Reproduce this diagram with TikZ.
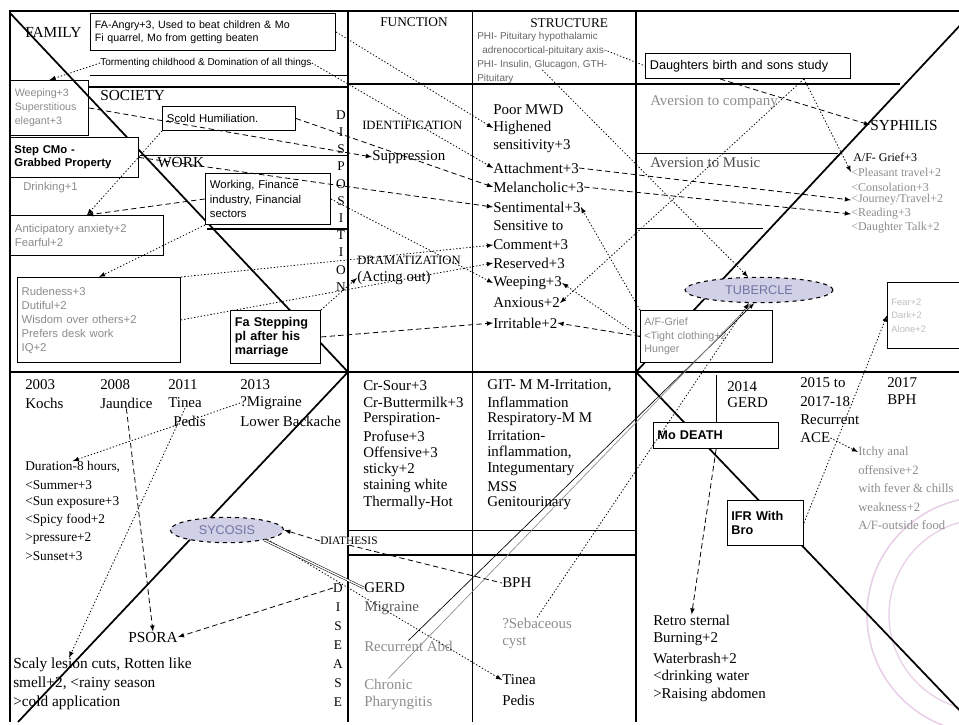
\documentclass[tikz,border=0pt]{standalone}
\usepackage{fontspec}
\setmainfont{Liberation Serif}
\setsansfont{Liberation Sans}
\usetikzlibrary{arrows,positioning,shapes.geometric}

\tikzset{
  heavy/.style={line width=1.3pt},
  hdr/.style={anchor=west, inner sep=0pt, font=\fontsize{11.5}{13}\selectfont},
  body/.style={anchor=west, inner sep=0pt, font=\fontsize{11.2}{12.5}\selectfont},
  capstext/.style={anchor=west, inner sep=0pt, font=\fontsize{9.5}{11}\selectfont},
  note/.style={anchor=west, inner sep=0pt, font=\fontsize{9}{10.5}\selectfont},
  tag/.style={anchor=west, inner sep=0pt, font=\sffamily\fontsize{7.5}{9}\selectfont},
  ghost/.style={text=black!45},
  box/.style={draw, fill=white, line width=0.7pt, anchor=north west, inner sep=3pt,
    align=left, font=\sffamily\fontsize{8.5}{10.5}\selectfont},
  boldbox/.style={box, font=\sffamily\bfseries\fontsize{9.5}{10.5}\selectfont},
  oval/.style={ellipse, draw, dashed, line width=0.8pt, inner sep=0pt,
    fill={rgb,255:red,208;green,208;blue,230}, text={rgb,255:red,115;green,115;blue,165},
    font=\sffamily\fontsize{9.5}{11}\selectfont},
  letter/.style={inner sep=0pt, font=\fontsize{10}{12}\selectfont},
  dashline/.style={-latex, dash pattern=on 4pt off 2.5pt, line width=0.6pt},
  dotline/.style={-latex, dash pattern=on 1pt off 1.5pt, line width=0.6pt},
}

\begin{document}
\begin{tikzpicture}[x=0.75pt, y=-0.75pt]
        \useasboundingbox (0,0) rectangle (959,724);

        % Faint seal in the corner
        \draw[violet!18, line width=1.2pt] (985,615) circle (118);
        \draw[violet!18, line width=1pt] (985,615) circle (96);

        % Frame and grid
        \draw[heavy] (10,722) -- (10,11) -- (959,11);
        \draw[heavy] (348,11) -- (348,722);
        \draw (472,11) -- (472,722);
        \draw[heavy] (636,11) -- (636,722);
        \draw[heavy] (10,372) -- (959,372);
        \draw[heavy] (348,84) -- (900,84);
        \draw (90,75) -- (348,75); \draw[heavy] (88,87) -- (348,87);
        \draw (140,155) -- (348,155); \draw[heavy] (207,229) -- (348,229);
        \draw (636,153) -- (838,153); \draw (636,228) -- (763,228);
        \draw (348,530) -- (636,530); \draw[heavy] (348,555) -- (636,555);

        % The four diagonals
        \draw[heavy] (10,13) -- (348,372);
        \draw[heavy] (348,372) -- (18,722);
        \draw[heavy] (636,372) -- (965,20);
        \draw[heavy] (636,372) -- (965,716);

        % Family, society, work
        \node[hdr] (fam) at (25,32) {FAMILY};
        \node[box, minimum width=183.75pt, minimum height=27.75pt, text width=177pt,
          font=\sffamily\fontsize{8}{10}\selectfont] (faB) at (90,13)
          {FA-Angry+3, Used to beat children \& Mo\\Fi quarrel, Mo from getting beaten};
        \node[tag] (torm) at (100,63) {Tormenting childhood \& Domination of all things};
        \node[box, ghost, fill=none, minimum width=58.5pt, minimum height=41.25pt, text width=52pt,
          font=\sffamily\fontsize{8}{10.5}\selectfont] (weepB) at (10,80)
          {Weeping+3\\Superstitious\\elegant+3};
        \node[hdr] (soc) at (100,95) {SOCIETY};
        \node[box, minimum width=99.75pt, minimum height=18pt, text width=93pt] (scoldB) at (162,106)
          {Scold Humiliation.};
        \node[boldbox, minimum width=96pt, minimum height=30pt, text width=90pt,
          font=\sffamily\bfseries\fontsize{8.5}{10}\selectfont] (stepB) at (10,137)
          {Step CMo -\\Grabbed Property};
        \node[tag, ghost, font=\sffamily\fontsize{8.5}{10}\selectfont] (drink) at (23,188) {Drinking+1};
        \node[hdr] (work) at (157,163) {WORK};
        \node[box, minimum width=93.75pt, minimum height=38.25pt, text width=87pt,
          font=\sffamily\fontsize{8.5}{11}\selectfont] (workB) at (205,173)
          {Working, Finance\\industry, Financial\\sectors};
        \node[box, ghost, minimum width=114.75pt, minimum height=30pt, text width=108pt] (fearB) at (10,215)
          {Anticipatory anxiety+2\\Fearful+2};
        \node[box, ghost, minimum width=122.25pt, minimum height=63.75pt, text width=116pt] (rudeB) at (17,277)
          {Rudeness+3\\Dutiful+2\\Wisdom over others+2\\Prefers desk work\\IQ+2};
        \node[boldbox, minimum width=67.5pt, minimum height=39.75pt, text width=61pt] (fastepB) at (230,310)
          {Fa Stepping\\pl after his\\marriage};

        % Function and structure
        \node[capstext, font=\fontsize{10}{12}\selectfont] (func) at (380,22) {FUNCTION};
        \node[capstext, font=\fontsize{10}{12}\selectfont] (struc) at (530,23) {STRUCTURE};
        \node[tag, text=black!60] (str1) at (477,37) {PHI- Pituitary hypothalamic};
        \node[tag, text=black!60] (str2) at (482,51) {adrenocortical-pituitary axis-};
        \node[tag, text=black!60] (str3) at (477,65) {PHI- Insulin, Glucagon, GTH-};
        \node[tag, text=black!60] (str4) at (477,79) {Pituitary};
        \node[capstext] (ident) at (362,125) {IDENTIFICATION};
        \node[body] (supp) at (372,157) {Suppression};
        \node[capstext] (dram) at (357,260) {DRAMATIZATION};
        \node[body] (act) at (357,278) {(Acting out)};
        \node[body] (mwd) at (493,110) {Poor MWD};
        \node[body] (hig) at (493,128) {Highened};
        \node[body] (sens) at (493,146) {sensitivity+3};
        \node[body] (att) at (493,168) {Attachment+3};
        \node[body] (mel) at (493,187) {Melancholic+3};
        \node[body] (sent) at (493,207) {Sentimental+3};
        \node[body] (sto) at (493,226) {Sensitive to};
        \node[body] (comm) at (493,245) {Comment+3};
        \node[body] (res) at (493,263) {Reserved+3};
        \node[body] (weep) at (493,283) {Weeping+3};
        \node[body] (anx) at (493,303) {Anxious+2};
        \node[body] (irr) at (493,323) {Irritable+2};

        % Disposition, down the middle
        \foreach \ch [count=\i] in {D,I,S,P,O,S,I,T,I,O,N}
          \node[letter] (dp\i) at (341,{97.8+17.2*\i}) {\ch};

        % Syphilis side
        \node[box, minimum width=153.75pt, minimum height=18.75pt, text width=147pt,
          font=\sffamily\fontsize{9.5}{11}\selectfont] (daughB) at (645,53)
          {Daughters birth and sons study};
        \node[body, ghost] (avc) at (650,102) {Aversion to company};
        \node[hdr] (syph) at (870,125) {SYPHILIS};
        \node[body, text=black!70] (avm) at (650,163) {Aversion to Music};
        \node[note] (af1) at (853,157) {A/F- Grief+3};
        \node[note, ghost] (af2) at (851,172) {<Pleasant travel+2};
        \node[note, ghost] (af3) at (851,187) {<Consolation+3};
        \node[note, ghost] (af4) at (851,200) {<Journey/Travel+2};
        \node[note, ghost] (af5) at (851,214) {<Reading+3};
        \node[note, ghost] (af6) at (851,228) {<Daughter Talk+2};
        \node[oval, minimum width=111pt, minimum height=19pt] (tub) at (759,290) {TUBERCLE};
        \node[box, ghost, minimum width=99pt, minimum height=39pt, text width=93pt,
          font=\sffamily\fontsize{8}{10}\selectfont] (afgB) at (640,310)
          {A/F-Grief\\<Tight clothing+2\\Hunger};
        \node[box, text=black!25, minimum width=60pt, minimum height=49.5pt, text width=54pt,
          font=\sffamily\fontsize{7}{10}\selectfont] (rightB) at (887,282)
          {Fear+2\\Dark+2\\Alone+2};

        % History row, left
        \node[body] (y03) at (25,385) {2003};
        \node[body] (k03) at (25,403) {Kochs};
        \node[body] (y08) at (100,385) {2008};
        \node[body] (jaun) at (100,403) {Jaundice};
        \node[body] (y11) at (168,385) {2011};
        \node[body] (tin1) at (168,403) {Tinea};
        \node[body] (ped1) at (173,421) {Pedis};
        \node[body] (y13) at (240,385) {2013};
        \node[body] (mig1) at (240,403) {?Migraine};
        \node[body] (lba) at (240,421) {Lower Backache};
        \node[note, font=\fontsize{10}{12}\selectfont] (dur) at (25,467) {Duration-8 hours,};
        \node[note, font=\fontsize{10}{12}\selectfont] (summ) at (25,485) {<Summer+3};
        \node[note, font=\fontsize{10}{12}\selectfont] (sun) at (25,502) {<Sun exposure+3};
        \node[note, font=\fontsize{10}{12}\selectfont] (spicy) at (25,520) {<Spicy food+2};
        \node[note, font=\fontsize{10}{12}\selectfont] (press) at (25,538) {>pressure+2};
        \node[note, font=\fontsize{10}{12}\selectfont] (sunset) at (25,556) {>Sunset+3};
        \node[oval, minimum width=85pt, minimum height=19pt] (syc) at (227,530) {SYCOSIS};
        \node[capstext, fill=white, font=\fontsize{8.5}{10}\selectfont] (diat) at (320,541) {DIATHESIS};
        \node[hdr] (pso) at (128,637) {PSORA};
        \node[body, font=\fontsize{11.5}{13}\selectfont] (scaly) at (13,665) {Scaly lesion cuts, Rotten like};
        \node[body, font=\fontsize{11.5}{13}\selectfont] (smell) at (13,684) {smell+2, <rainy season};
        \node[body, font=\fontsize{11.5}{13}\selectfont] (cold) at (13,703) {>cold application};
        \foreach \ch [count=\i] in {D,I,S,E,A,S,E}
          \node[letter] (ds\i) at (338,{569+19*\i}) {\ch};

        % Generals and systems
        \foreach \t [count=\i] in {Cr-Sour+3, Cr-Buttermilk+3, Perspiration-, Profuse+3,
            Offensive+3, sticky+2, staining white, Thermally-Hot}
          \node[body] (gen\i) at (363,{369.3+16.7*\i}) {\t};
        \foreach \t [count=\i] in {{GIT- M M-Irritation,}, Inflammation, Respiratory-M M, Irritation-,
            {inflammation,}, Integumentary, MSS, Genitourinary}
          \node[body] (sys\i) at (487,{369.3+16.7*\i}) {\t};

        % Diseases
        \node[body] (gerd) at (364,588) {GERD};
        \node[body, text=black!65] (mig2) at (364,608) {Migraine};
        \node[body, ghost] (rec) at (364,646) {Recurrent Abd};
        \node[body, ghost] (chr) at (364,684) {Chronic};
        \node[body, ghost] (phar) at (364,703) {Pharyngitis};
        \node[body] (bph) at (502,583) {BPH};
        \node[body, ghost] (seb) at (502,623) {?Sebaceous};
        \node[body, ghost] (cyst) at (502,643) {cyst};
        \node[body] (tin2) at (502,680) {Tinea};
        \node[body] (ped2) at (502,700) {Pedis};

        % History row, right
        \node[body] (y14) at (727,387) {2014};
        \node[body] (gerd14) at (727,403) {GERD};
        \node[body] (y15) at (800,383) {2015 to};
        \node[body] (y1718) at (800,402) {2017-18};
        \node[body] (recur) at (800,420) {Recurrent};
        \node[body] (ace) at (800,438) {ACE};
        \node[body] (y17) at (887,383) {2017};
        \node[body] (bph17) at (887,400) {BPH};
        \node[boldbox, minimum width=93.75pt, minimum height=19.5pt, text width=88pt] (deathB) at (653,422)
          {Mo DEATH};
        \node[boldbox, minimum width=57pt, minimum height=33.75pt, text width=51pt] (ifrB) at (727,500)
          {IFR With\\Bro};
        \node[body, ghost, font=\fontsize{9.5}{11}\selectfont] (itch) at (858,452) {Itchy anal};
        \node[body, ghost, font=\fontsize{9.5}{11}\selectfont] (off) at (858,470) {offensive+2};
        \node[body, ghost, font=\fontsize{9.5}{11}\selectfont] (fev) at (858,488) {with fever \& chills};
        \node[body, ghost, font=\fontsize{9.5}{11}\selectfont] (weak) at (858,507) {weakness+2};
        \node[body, ghost, font=\fontsize{9.5}{11}\selectfont] (afo) at (858,525) {A/F-outside food};
        \node[body] (retro) at (653,620) {Retro sternal};
        \node[body] (burn) at (653,639) {Burning+2};
        \node[body] (wat) at (653,658) {Waterbrash+2};
        \node[body] (drk) at (653,677) {<drinking water};
        \node[body] (rais) at (653,695) {>Raising abdomen};

        % Connectors, left block
        \draw[dotline] (faB.east) -- (hig.west);
        \draw[dotline] (torm.west) -- (weepB.north);
        \draw[dotline] (torm.east) -- (att.west);
        \draw[dashline] (weepB.east) -- (supp.west);
        \draw[dashline] (scoldB.east) -- (mel.west);
        \draw[dashline] (stepB.east) -- (sent.west);
        \draw[dotline] (scoldB.south west) -- (fearB.north);
        \draw[dashline] (workB.west) -- (fearB.north);
        \draw[dotline] (workB.south west) -- (rudeB.north);
        \draw[dotline] (workB.east) -- (weep.west);
        \draw[dotline] (rudeB.east) -- (res.west);
        \draw[dotline] (rudeB.north east) -- (comm.west);
        \draw[dotline] (fastepB.north east) -- (act.west);
        \draw[dashline] (fastepB.east) -- (irr.west);

        % Connectors, right block
        \draw[dash pattern=on 1pt off 1.5pt, line width=0.6pt] (str2.east) -- (daughB.west);
        \draw[dashline] ([xshift=-21pt]daughB.south) -- (syph.west);
        \draw[dotline] ([xshift=42pt]daughB.south) -- (af2.west);
        \draw[dotline] ([xshift=42pt]daughB.south) -- (anx.east);
        \draw[dotline] (str3.south) -- (tub.130);
        \draw[dashline] (att.east) -- (af4.west);
        \draw[dashline] (mel.east) -- (af5.west);
        \draw[dotline] (afgB.north west) -- (sent.east);
        \draw[dotline] (afgB.west) -- (weep.east);
        \draw[dashline] (afgB.west) -- (irr.east);
        \draw[-latex, line width=0.5pt] (rec.north) -- (tub.250);
        \draw[-latex, line width=0.5pt, black!45] (chr.north) -- (tub.240);
        \draw[dotline] (seb.north) -- (tub.232);

        % Connectors, lower half
        \draw[dotline] (mig1.west) -- (dur.north);
        \draw[dashline] (jaun.south) -- (pso.north);
        \draw[dotline] (tin1.south) -- ([xshift=42pt]scaly.north west);
        \draw[dashline] (diat.west) -- (syc.east);
        \draw[dotline] (syc.south east) -- (tin2.west);
        \draw[double, double distance=1pt, line width=0.4pt] (syc.-15) -- (gerd.west);
        \draw[dash pattern=on 4pt off 2.5pt, line width=0.6pt] (diat.south) -- (bph.west);
        \draw[dashline] (ds1.west) -- (pso.east);
        \draw[dashline] (deathB.south) -- (retro.north);
        \draw (deathB.north) -- ++(0,-47);
        \draw[dotline] (ace.east) -- (itch.west);
        \draw[dotline] (ifrB.east) -- (rightB.west);
\end{tikzpicture}
\end{document}
